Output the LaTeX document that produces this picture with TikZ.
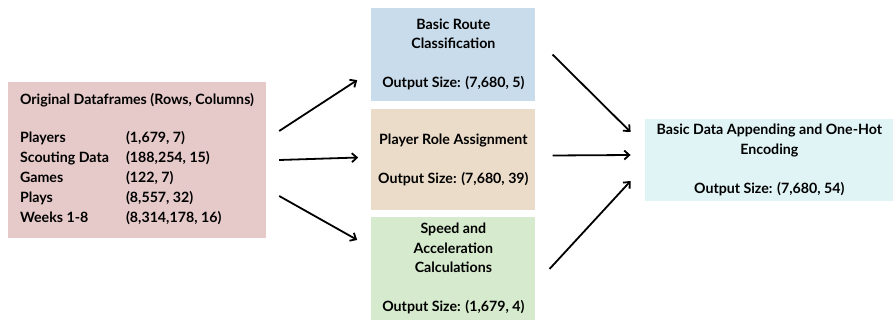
\documentclass[tikz,border=0pt]{standalone}
\usepackage{fontspec}
\setmainfont{Lato}
\usepackage{tikz}
\usetikzlibrary{arrows.meta, positioning}
\usepackage{xcolor}
\definecolor{pinkbox}{RGB}{230,201,201}
\definecolor{bluebox}{RGB}{201,220,235}
\definecolor{tanbox}{RGB}{235,220,201}
\definecolor{greenbox}{RGB}{214,235,205}
\definecolor{cyanbox}{RGB}{224,244,246}

\begin{document}
\begin{tikzpicture}[
    stage/.style={rectangle, inner sep=0pt, align=center, minimum width=164pt},
    arrow/.style={-{Straight Barb[length=5pt, width=9pt]}, line width=1.8pt},
    every node/.append style={font=\fontsize{14.2}{19.5}\selectfont\bfseries}
]
    \useasboundingbox (0,0) rectangle (893pt,-320pt);
    \begin{scope}
    \clip (0,0) rectangle (893pt,-320pt);
    \node[rectangle, fill=pinkbox, minimum width=258pt, minimum height=156pt, inner sep=0pt] (orig) at (137pt,-160pt)
        {\fontsize{14.2}{20}\selectfont
         \begin{tabular}{@{}p{106pt}@{}l@{}}
         \multicolumn{2}{@{}c@{}}{Original Dataframes (Rows, Columns)}\\[18pt]
         Players & (1,679, 7)\\
         Scouting Data & (188,254, 15)\\
         Games & (122, 7)\\
         Plays & (8,557, 32)\\
         Weeks 1-8 & (8,314,178, 16)
         \end{tabular}};
    \node[stage, fill=tanbox, minimum height=101pt, right=105pt of orig] (role)
        {Player Role Assignment\\[19.5pt]Output Size: (7,680, 39)};
    \node[stage, fill=bluebox, minimum height=93pt, above=8pt of role] (route)
        {Basic Route\\Classification\\[19.5pt]Output Size: (7,680, 5)};
    \node[stage, fill=greenbox, minimum height=104pt, below=6pt of role] (speed)
        {Speed and\\Acceleration\\Calculations\\[19.5pt]Output Size: (1,679, 4)};
    \node[stage, fill=cyanbox, minimum width=249pt, minimum height=82pt, right=109pt of role] (append)
        {Basic Data Appending and One-Hot\\Encoding\\[19.5pt]Output Size: (7,680, 54)};
    \end{scope}

    \draw[arrow] ([shift={(13pt,29pt)}]orig.east) -- ([shift={(-14pt,-25.5pt)}]route.west);
    \draw[arrow] ([shift={(13pt,0pt)}]orig.east) -- ([shift={(-13pt,2.5pt)}]role.west);
    \draw[arrow] ([shift={(13pt,-36pt)}]orig.east) -- ([shift={(-14pt,29pt)}]speed.west);
    \draw[arrow] ([shift={(17pt,0pt)}]route.east) -- ([shift={(-14pt,28pt)}]append.west);
    \draw[arrow] ([shift={(17pt,4.5pt)}]role.east) -- ([shift={(-14pt,5pt)}]append.west);
    \draw[arrow] ([shift={(14pt,0pt)}]speed.east) -- ([shift={(-14pt,-21pt)}]append.west);
\end{tikzpicture}
\end{document}
